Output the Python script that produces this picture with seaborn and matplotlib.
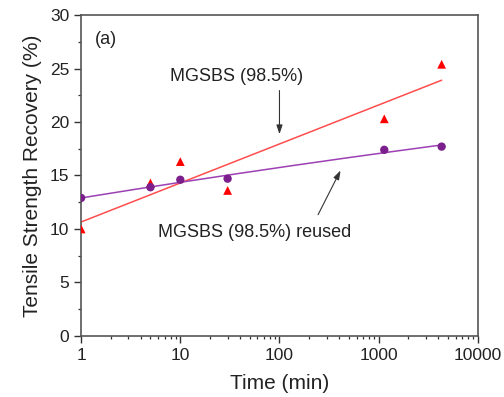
import numpy as np
import pandas as pd
import matplotlib
matplotlib.use("Agg")
import matplotlib.pyplot as plt
import seaborn as sns
from matplotlib.ticker import FixedLocator, NullFormatter, LogLocator

# data
time_min = [1, 5, 10, 30, 1140, 4320]
mgsbs = [10.0, 14.3, 16.3, 13.6, 20.3, 25.4]
mgsbs_reused = [12.9, 13.9, 14.6, 14.7, 17.4, 17.7]
series_names = ["MGSBS (98.5%)", "MGSBS (98.5%) reused"]
x_ticks = [1, 10, 100, 1000, 10000]
x_tick_labels = ["1", "10", "100", "1000", "10000"]
y_ticks = [0, 5, 10, 15, 20, 25, 30]

sns.set_style("ticks")
plt.rcParams['font.family'] = ['Liberation Sans', 'DejaVu Sans']

fig = plt.figure(figsize=(5.04, 3.97), dpi=100)
ax = fig.add_axes([0.161, 0.154, 0.787, 0.808])

df = pd.DataFrame({"t": time_min * 2,
                   "v": mgsbs + mgsbs_reused,
                   "s": [series_names[0]] * len(time_min) + [series_names[1]] * len(time_min)})

# fits in log10(t)
lx = np.log10(time_min)
xs = np.logspace(0, np.log10(max(time_min)), 200)
p1 = np.polyfit(lx, mgsbs, 1)
p2 = np.polyfit(lx, mgsbs_reused, 2)
fit = pd.DataFrame({"t": np.concatenate([xs, xs]),
                    "v": np.concatenate([np.polyval(p1, np.log10(xs)), np.polyval(p2, np.log10(xs))]),
                    "s": [series_names[0]] * len(xs) + [series_names[1]] * len(xs)})

sns.lineplot(data=fit[fit.s == series_names[0]], x="t", y="v", color="#ff4d4d", lw=1.1, ax=ax, legend=False)
sns.lineplot(data=fit[fit.s == series_names[1]], x="t", y="v", color="#9c40b4", lw=1.1, ax=ax, legend=False)
sns.scatterplot(data=df[df.s == series_names[0]], x="t", y="v", marker="^", color="#ff0000", s=40,
                edgecolor="none", ax=ax, legend=False, zorder=3)
sns.scatterplot(data=df[df.s == series_names[1]], x="t", y="v", marker="o", color="#7a1f8c", s=36,
                edgecolor="none", ax=ax, legend=False, zorder=3)

ax.set_xscale("log")
ax.set_xlim(1, 10000)
ax.set_ylim(0, 30)
ax.xaxis.set_major_locator(FixedLocator(x_ticks))
ax.set_xticklabels(x_tick_labels)
ax.xaxis.set_minor_locator(LogLocator(base=10, subs=np.arange(2, 10)))
ax.xaxis.set_minor_formatter(NullFormatter())
ax.set_yticks(y_ticks)
ax.yaxis.set_minor_locator(FixedLocator(np.arange(2.5, 30, 5)))

for sp in ax.spines.values():
    sp.set_color("#555555")
    sp.set_linewidth(1.2)
ax.tick_params(which="major", direction="out", length=5, width=1, colors="#333333", labelsize=12.5,
               labelcolor="#222222", top=False, right=False)
ax.tick_params(which="minor", direction="out", length=2.5, width=0.9, colors="#333333", top=False, right=False)

ax.set_xlabel("Time (min)", fontsize=15, color="#222222", labelpad=8)
ax.set_ylabel("Tensile Strength Recovery (%)", fontsize=15, color="#222222", labelpad=6)

ax.text(1.38, 27.7, "(a)", fontsize=13, color="#222222", ha="left", va="center")
ax.annotate("", xy=(100, 18.6), xytext=(100, 23.2),
            arrowprops=dict(arrowstyle="-|>,head_length=0.6,head_width=0.2", color="#333333", lw=0.8, mutation_scale=9))
ax.text(37, 24.3, series_names[0], fontsize=13, color="#222222", ha="center", va="center")
ax.annotate("", xy=(425, 15.7), xytext=(238, 11.1),
            arrowprops=dict(arrowstyle="-|>,head_length=0.6,head_width=0.2", color="#333333", lw=0.8, mutation_scale=9))
ax.text(56, 9.7, series_names[1], fontsize=13, color="#222222", ha="center", va="center")

fig.savefig("out.png", dpi=100)
